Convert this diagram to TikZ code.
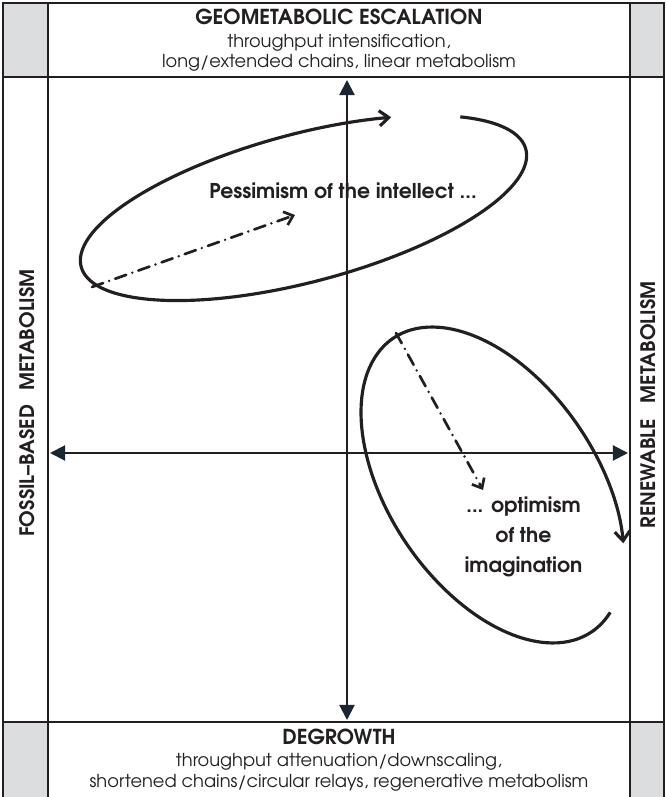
\documentclass[tikz,border=0pt]{standalone}
\usepackage{fontspec}
\setmainfont{texgyreadventor}[Extension=.otf, UprightFont=*-regular, BoldFont=*-bold, ItalicFont=*-italic, BoldItalicFont=*-bolditalic]
\usepackage{tikz}
\usetikzlibrary{arrows.meta}

\definecolor{ink}{HTML}{231F20}
\definecolor{tipcol}{HTML}{1B2631}
\definecolor{cellgray}{HTML}{DCDDDF}

\begin{document}
\begin{tikzpicture}[x=0.3mm, y=0.3mm,
    gridline/.style={line width=1.8pt, draw=ink},
    axis/.style={line width=1.7pt, draw=ink, {Triangle[length=13pt, width=13pt, color=tipcol]}-{Triangle[length=13pt, width=13pt, color=tipcol]}},
    swirl/.style={line width=2.7pt, draw=ink, -{Straight Barb[length=8pt, width=13pt, line width=2.7pt]}},
    dashdot/.style={line width=2.3pt, draw=ink, line cap=round, dash pattern=on 10pt off 5.5pt on 0pt off 5.5pt, -{Straight Barb[length=7pt, width=12pt, line width=2.3pt]}},
    head/.style={font=\bfseries\fontsize{17.6}{20}\selectfont, text=ink},
    sub/.style={font=\fontsize{15.2}{18}\selectfont, text=ink},
    side/.style={font=\bfseries\fontsize{17}{19}\selectfont, text=ink, rotate=90},
    motto/.style={font=\bfseries\fontsize{17.4}{25.5}\selectfont, text=ink, align=center}]
    \useasboundingbox (0,0) rectangle (666,797);
    % grey corner cells
    \foreach \x/\w in {3/45, 630/34} {
        \fill[cellgray] (\x,720) rectangle ++(\w,74);
        \fill[cellgray] (\x,0) rectangle ++(\w,75);
    }
    % frame
    \draw[gridline] (3,0) -- (3,794) -- (664,794) -- (664,0);
    \draw[gridline] (48,0) -- (48,794);
    \draw[gridline] (630,0) -- (630,794);
    \draw[gridline] (3,720) -- (664,720);
    \draw[gridline] (3,75) -- (664,75);
    % axes
    \coordinate (N) at (347,717);
    \coordinate (S) at (347,77);
    \coordinate (W) at (50,344);
    \coordinate (E) at (628,344);
    \draw[axis] (S) -- (N);
    \draw[axis] (W) -- (E);
    % the two loops
    \draw[swirl, shift={(303.5,589)}, rotate=14.8] (40.5:230 and 74) arc[start angle=40.5, end angle=-298, x radius=230, y radius=74];
    \draw[swirl, shift={(492.5,312)}, rotate=-55.95] (14.6:177.2 and 104.1) arc[start angle=14.6, end angle=-313.3, x radius=177.2, y radius=104.1];
    \coordinate (P1) at (92,510);
    \coordinate (P2) at (295,582);
    \coordinate (O1) at (396,464);
    \coordinate (O2) at (483,307);
    \draw[dashdot] (P1) -- (P2);
    \draw[dashdot] (O1) -- (O2);
    % labels
    \node[head] (top) at (339,780) {GEOMETABOLIC ESCALATION};
    \node[sub] (top1) at (339,754) {throughput intensification,};
    \node[sub] (top2) at (339,734) {long/extended chains, linear metabolism};
    \node[head] (bot) at (339,60) {DEGROWTH};
    \node[sub] (bot1) at (339,35) {throughput attenuation/downscaling,};
    \node[sub] (bot2) at (339,14) {shortened chains/circular relays, regenerative metabolism};
    \node[side] (fossil) at (27,394) {FOSSIL–BASED\hspace{0.7em}METABOLISM};
    \node[side] (renew) at (648,392) {RENEWABLE\hspace{0.8em}METABOLISM};
    \node[motto] (pess) at (343,606) {Pessimism of the intellect ...};
    \node[motto] (opt) at (523.5,260) {... optimism\\of the\\imagination};
\end{tikzpicture}
\end{document}
